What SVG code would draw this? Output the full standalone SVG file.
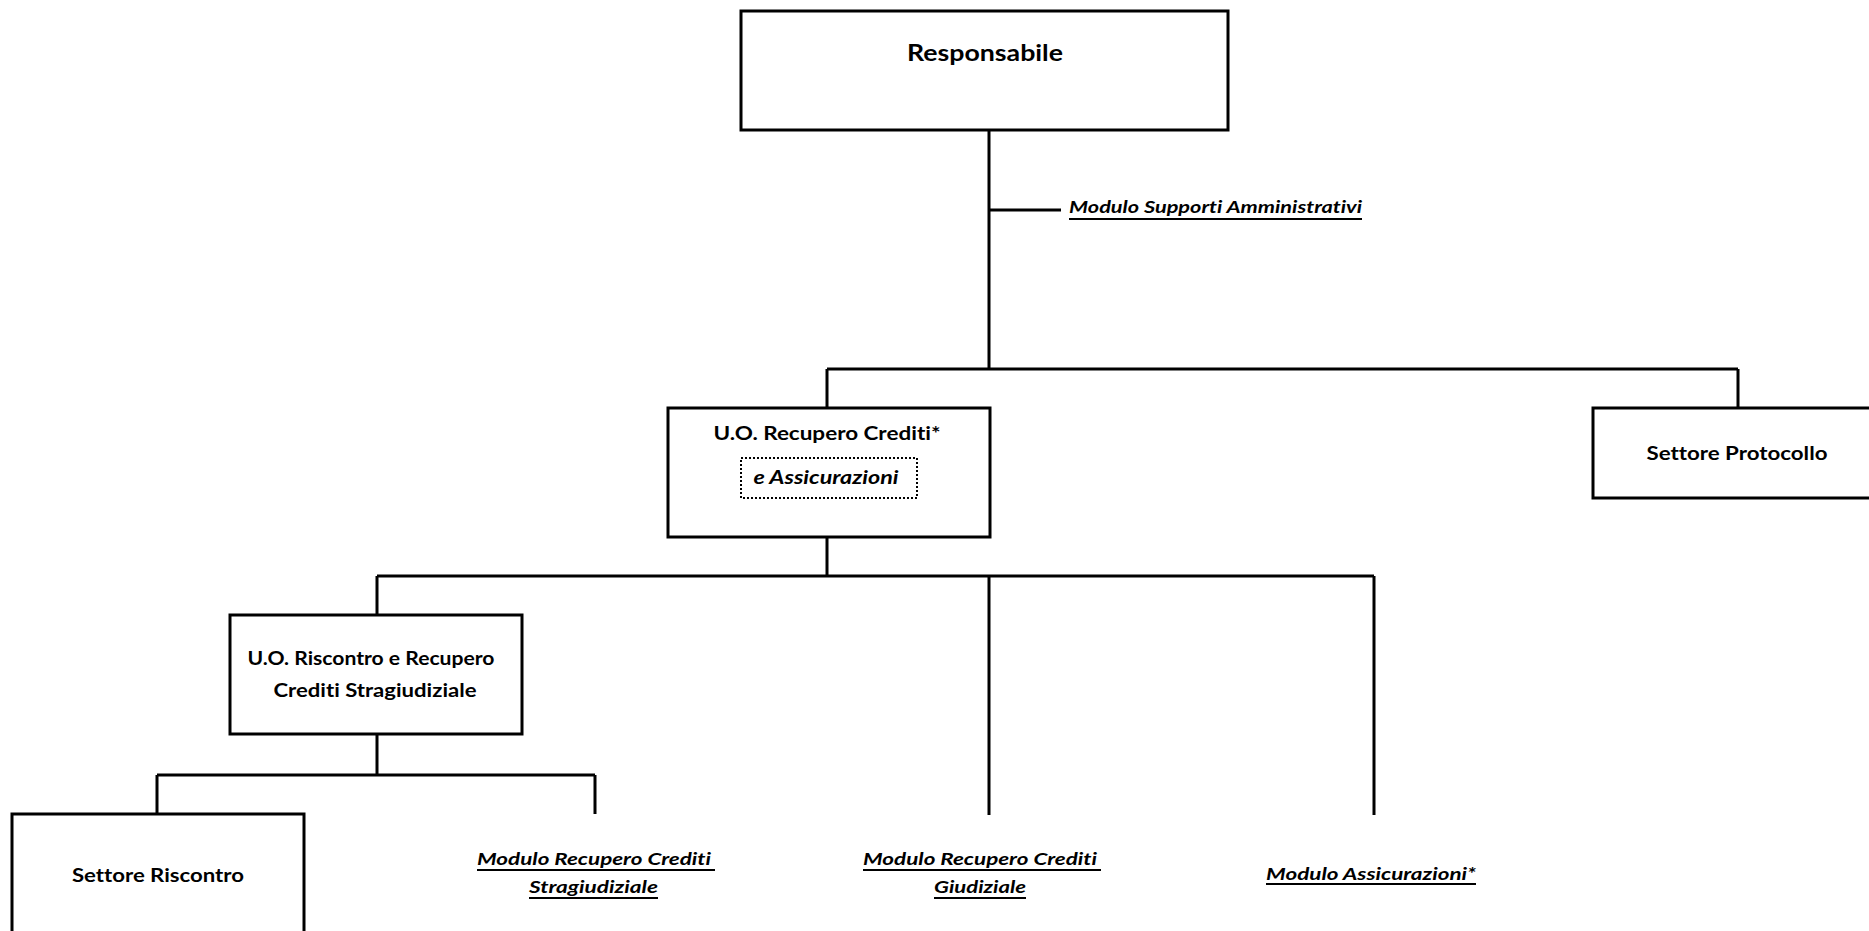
<svg xmlns="http://www.w3.org/2000/svg" width="1869" height="931" viewBox="0 0 1869 931">
<style>
.box{fill:#fff;stroke:#000;stroke-width:3}
.dot{fill:none;stroke:#000;stroke-width:2;stroke-dasharray:2 2}
.ln{stroke:#000;stroke-width:3;fill:none}
.ul{stroke:#000;stroke-width:2}
.t{font-family:Lato,"Liberation Sans",sans-serif;font-weight:bold;font-size:19px;fill:#000;font-variant-ligatures:none;font-feature-settings:"liga" 0,"dlig" 0}
.big{font-size:22.5px}
.it{font-style:italic;font-size:17.5px}
.m{text-anchor:middle}
</style>
<rect width="1869" height="931" fill="#fff"/>
<g id="connectors">
<path class="ln" d="M989 130V369M989 210H1061M827 369H1738M827 369V408M1738 369V408"/>
<path class="ln" d="M827 537V576M377 576H1374M377 576V615M989 576V815M1374 576V815"/>
<path class="ln" d="M377 734V775M157 775H595M157 775V814M595 775V814"/>
</g>
<g id="responsabile">
<rect class="box" x="741" y="11" width="487" height="119"/>
<text class="t big m" x="985" y="61" textLength="156" lengthAdjust="spacingAndGlyphs">Responsabile</text>
</g>
<g id="modulo-supporti">
<text class="t it" x="1069" y="213" textLength="293" lengthAdjust="spacingAndGlyphs">Modulo Supporti Amministrativi</text>
<line class="ul" x1="1069" y1="219" x2="1362" y2="219"/>
</g>
<g id="uo-recupero">
<rect class="box" x="668" y="408" width="322" height="129"/>
<text class="t m" x="827" y="440" textLength="227" lengthAdjust="spacingAndGlyphs">U.O. Recupero Crediti*</text>
<rect class="dot" x="741" y="458" width="176" height="40"/>
<text class="t m" x="826" y="484" font-style="italic" textLength="145" lengthAdjust="spacingAndGlyphs">e Assicurazioni</text>
</g>
<g id="settore-protocollo">
<rect class="box" x="1593" y="408" width="290" height="90"/>
<text class="t m" x="1737" y="460" textLength="181" lengthAdjust="spacingAndGlyphs">Settore Protocollo</text>
</g>
<g id="uo-riscontro">
<rect class="box" x="230" y="615" width="292" height="119"/>
<text class="t m" x="371" y="665" textLength="247" lengthAdjust="spacingAndGlyphs">U.O. Riscontro e Recupero</text>
<text class="t m" x="375" y="697" textLength="203" lengthAdjust="spacingAndGlyphs">Crediti Stragiudiziale</text>
</g>
<g id="settore-riscontro">
<rect class="box" x="12" y="814" width="292" height="130"/>
<text class="t m" x="158" y="882" textLength="172" lengthAdjust="spacingAndGlyphs">Settore Riscontro</text>
</g>
<g id="modulo-stragiudiziale">
<text class="t it" x="477" y="865" textLength="234" lengthAdjust="spacingAndGlyphs">Modulo Recupero Crediti</text>
<line class="ul" x1="477" y1="870" x2="715" y2="870"/>
<text class="t it" x="529" y="893" textLength="129" lengthAdjust="spacingAndGlyphs">Stragiudiziale</text>
<line class="ul" x1="529" y1="898" x2="658" y2="898"/>
</g>
<g id="modulo-giudiziale">
<text class="t it" x="863" y="865" textLength="234" lengthAdjust="spacingAndGlyphs">Modulo Recupero Crediti</text>
<line class="ul" x1="863" y1="870" x2="1101" y2="870"/>
<text class="t it" x="934" y="893" textLength="92" lengthAdjust="spacingAndGlyphs">Giudiziale</text>
<line class="ul" x1="934" y1="898" x2="1026" y2="898"/>
</g>
<g id="modulo-assicurazioni">
<text class="t it" x="1266" y="880" textLength="210" lengthAdjust="spacingAndGlyphs">Modulo Assicurazioni*</text>
<line class="ul" x1="1266" y1="884" x2="1476" y2="884"/>
</g>
</svg>
